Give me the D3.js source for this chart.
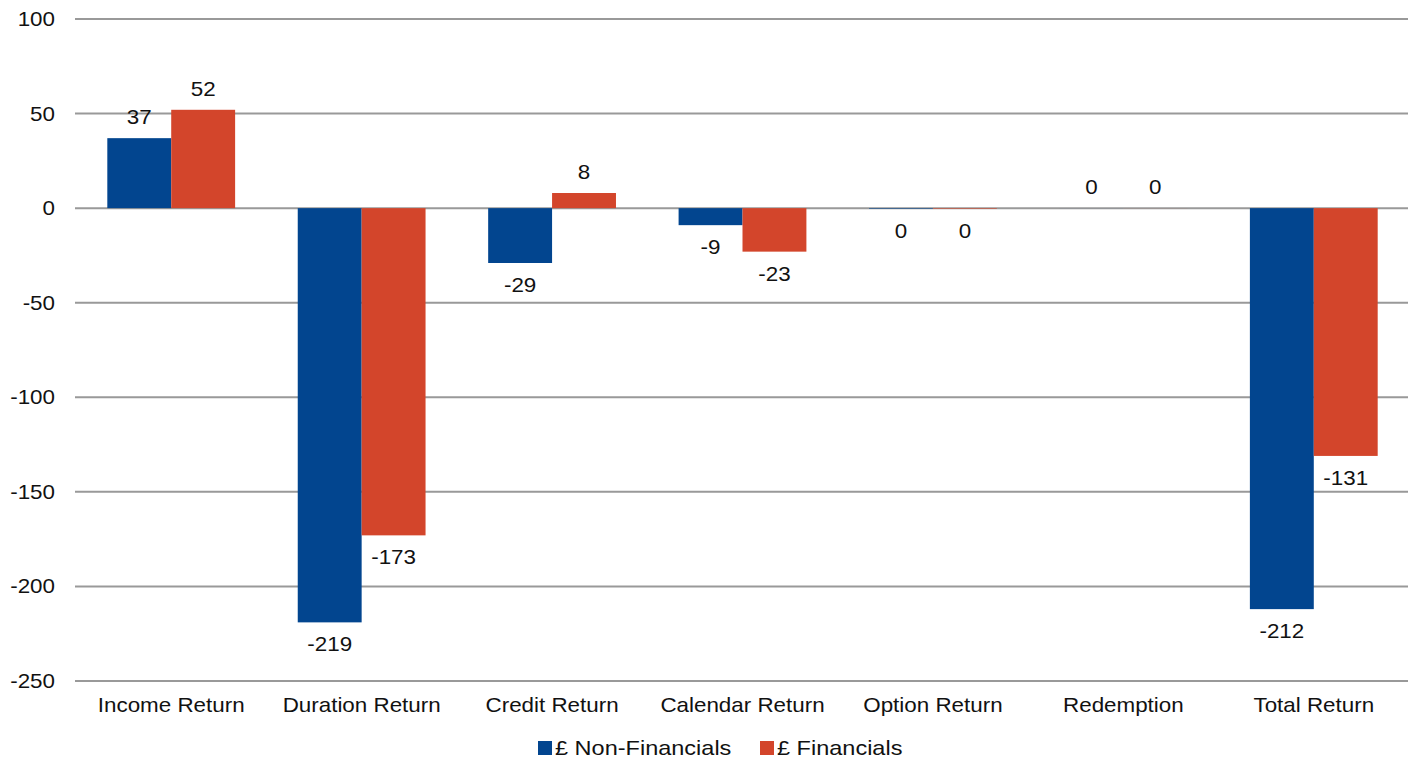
<!DOCTYPE html>
<html>
<head>
<meta charset="utf-8">
<script src="https://cdn.jsdelivr.net/npm/d3@7"></script>
<style>
  html, body { margin: 0; padding: 0; background: #fff; }
  svg text { font-family: "Liberation Sans", Arial, sans-serif; fill: #111; }
</style>
</head>
<body>
<svg id="chart" width="1416" height="765"></svg>
<script>
var categories = ['Income Return', 'Duration Return', 'Credit Return', 'Calendar Return', 'Option Return', 'Redemption', 'Total Return'];
var seriesNames = ['£ Non-Financials', '£ Financials'];
var nonFinancials = [37, -219, -29, -9, -0.3, 0.02, -212];
var financials = [52, -173, 8, -23, -0.3, 0.02, -131];
var yTicks = [100, 50, 0, -50, -100, -150, -200, -250];
var colors = ['#02458f', '#d3452b'];

var svg = d3.select('#chart');
var stretch = 1.12; // text in the source is a bit wide

var x = d3.scaleBand().domain(categories).range([76, 1409]);
var xs = d3.scaleBand().domain(seriesNames).range([0, x.bandwidth()]).paddingOuter(0.49);
var y = d3.scaleLinear().domain([-250, 100]).range([681, 19]);

function label(sel, tx, ty, txt, anchor, size) {
  sel.append('text')
    .attr('transform', 'translate(' + tx + ',' + ty + ') scale(' + stretch + ',1)')
    .attr('text-anchor', anchor || 'middle')
    .style('font-size', (size || 20) + 'px')
    .text(txt);
}

// gridlines
var grid = svg.append('g');
yTicks.forEach(function(t) {
  grid.append('line')
    .attr('x1', 75).attr('x2', 1408)
    .attr('y1', y(t)).attr('y2', y(t))
    .attr('stroke', '#999').attr('stroke-width', 2);
  label(grid, 55, y(t) + 7, t, 'end');
});

var rows = categories.map(function(c, i) {
  return { cat: c, vals: [nonFinancials[i], financials[i]] };
});

var bars = svg.append('g');
rows.forEach(function(r) {
  r.vals.forEach(function(v, j) {
    var bx = x(r.cat) + xs(seriesNames[j]);
    bars.append('rect')
      .attr('x', bx)
      .attr('width', xs.bandwidth())
      .attr('y', Math.min(y(v), y(0)))
      .attr('height', Math.abs(y(v) - y(0)))
      .attr('fill', colors[j]);
  });
});

var labels = svg.append('g');
rows.forEach(function(r) {
  r.vals.forEach(function(v, j) {
    var cx = x(r.cat) + xs(seriesNames[j]) + xs.bandwidth() / 2;
    var n = Math.round(v);
    var txt = n === 0 ? '0' : String(n);
    var ty = v >= 0 ? y(v) - 14 : y(v) + 29;
    label(labels, cx, ty, txt);
  });
});

// category labels
categories.forEach(function(c) {
  label(svg, x(c) + x.bandwidth() / 2, 712, c);
});

// legend
var legend = svg.append('g');
var lx = [538, 760];
seriesNames.forEach(function(s, j) {
  legend.append('rect')
    .attr('x', lx[j]).attr('y', 741)
    .attr('width', 14).attr('height', 14)
    .attr('fill', colors[j]);
  label(legend, lx[j] + 17, 755, s, 'start', 21);
});
</script>
</body>
</html>
